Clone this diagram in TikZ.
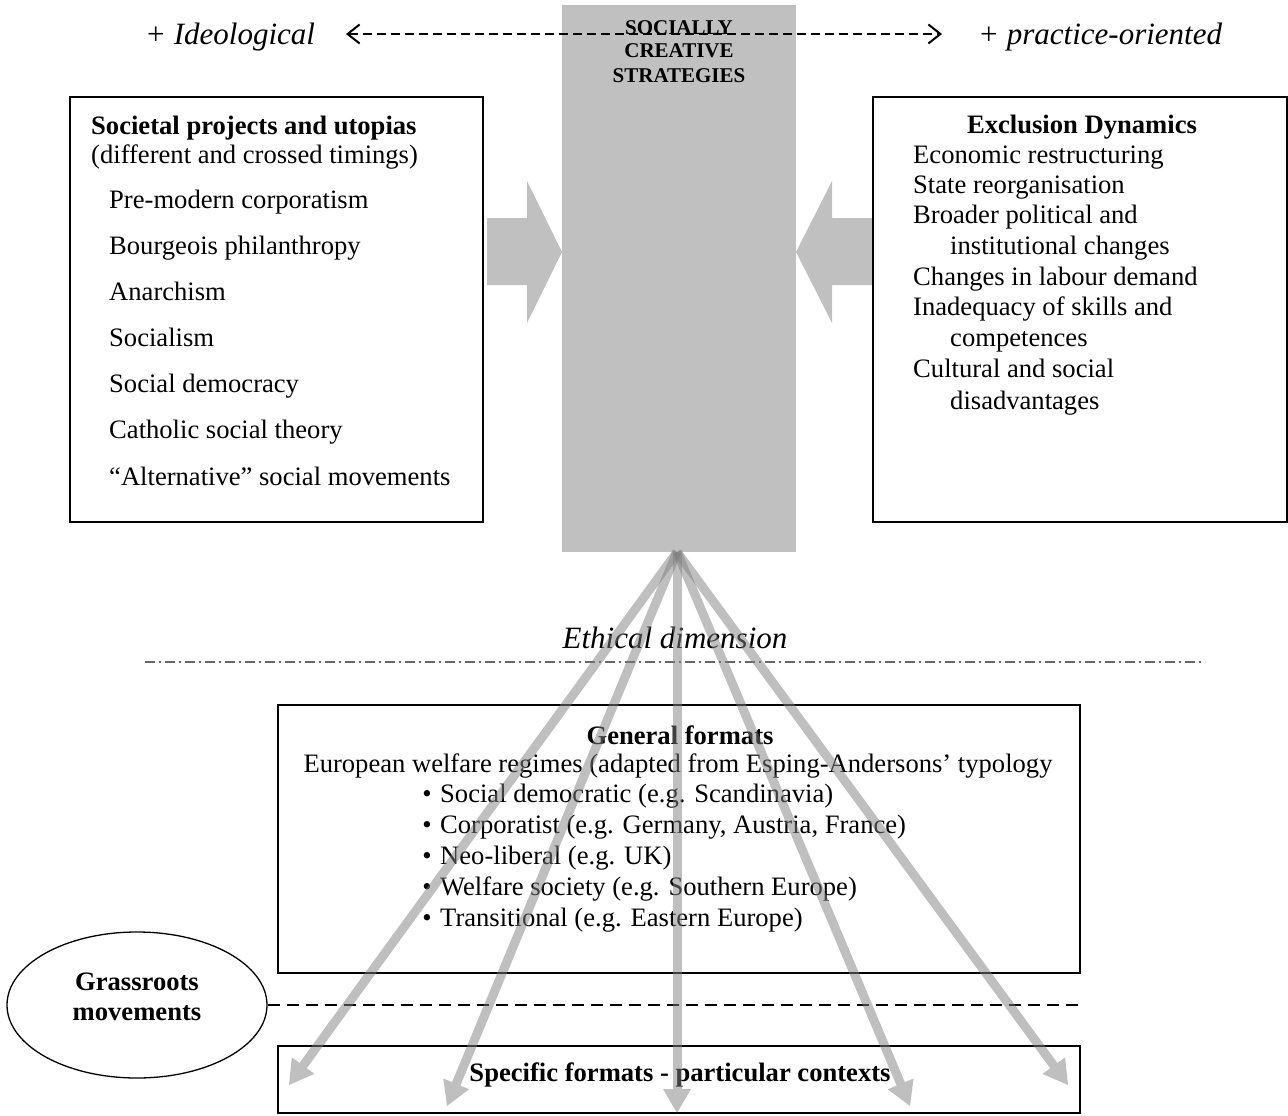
\documentclass[tikz,border=0pt]{standalone}
\usepackage{fontspec}
\setmainfont{Liberation Serif}
\usetikzlibrary{calc,arrows.meta,shapes.geometric}
\definecolor{boxgrey}{RGB}{192,192,192}
\definecolor{fangrey}{RGB}{128,128,128}
\newcommand\bodyfs{\fontsize{26.6pt}{31pt}\selectfont}
\newcommand\corefs{\fontsize{21pt}{25pt}\selectfont\bfseries}
\newcommand\itfs{\fontsize{31pt}{36pt}\selectfont\itshape}
\begin{document}
\begin{tikzpicture}[x=1pt,y=-1pt,
  txt/.style={inner sep=0pt,anchor=base west,font=\bodyfs},
  ctxt/.style={inner sep=0pt,anchor=base,font=\bodyfs},
  frame/.style={draw=black,line width=1.3pt,fill=none},
  fan/.style={draw=fangrey,line width=9pt,draw opacity=0.5},
  fanhead/.style={fill=fangrey,fill opacity=0.5},
  twobarb/.style={{Straight Barb[length=12pt,width=19pt,line width=2pt]}-{Straight Barb[length=12pt,width=19pt,line width=2pt]}}]
\useasboundingbox (0,0) rectangle (1288,1116);

% central grey block
\fill[boxgrey] (562,5) rectangle (796,552);
\node[inner sep=0pt,anchor=base,font=\corefs] (c1) at (679,35) {SOCIALLY};
\node[inner sep=0pt,anchor=base,font=\corefs] (c2) at (679,58) {CREATIVE};
\node[inner sep=0pt,anchor=base,font=\corefs] (c3) at (679,83) {STRATEGIES};

% block arrows
\fill[boxgrey] (487,218) -- (527,218) -- (527,181) -- (562,252) -- (527,323) -- (527,285) -- (487,285) -- cycle;
\fill[boxgrey] (872,218) -- (832,218) -- (832,181) -- (796,252) -- (832,323) -- (832,285) -- (872,285) -- cycle;

% top labels and dashed arrow
\node[inner sep=0pt,anchor=base west,font=\itfs] (ideo) at (145,45) {+ Ideological};
\node[inner sep=0pt,anchor=base west,font=\itfs] (prac) at (978,45) {+ practice-oriented};
\coordinate (dl) at (346,34);
\coordinate (dr) at (942,34);
\draw[line width=2pt,dash pattern=on 9pt off 5pt,twobarb] (dl) -- (dr);

% left box
\draw[frame,line width=1.7pt] (70,97) rectangle (483,522);
\node[txt,font=\bodyfs\bfseries] (l0) at (91,134) {Societal projects and utopias};
\node[txt] (l1) at (91,163) {(different and crossed timings)};
\node[txt] (l2) at (109,208) {Pre-modern corporatism};
\node[txt] (l3) at (109,254) {Bourgeois philanthropy};
\node[txt] (l4) at (109,300) {Anarchism};
\node[txt] (l5) at (109,346) {Socialism};
\node[txt] (l6) at (109,392) {Social democracy};
\node[txt] (l7) at (109,438) {Catholic social theory};
\node[txt] (l8) at (109,485) {“Alternative” social movements};

% right box
\draw[frame,line width=1.7pt] (873,97) rectangle (1287,522);
\node[ctxt,font=\bodyfs\bfseries] (r0) at (1082,133) {Exclusion Dynamics};
\node[txt] (r1) at (913,163) {Economic restructuring};
\node[txt] (r2) at (913,193) {State reorganisation};
\node[txt] (r3) at (913,223) {Broader political and};
\node[txt] (r4) at (950,254) {institutional changes};
\node[txt] (r5) at (913,285) {Changes in labour demand};
\node[txt] (r6) at (913,315) {Inadequacy of skills and};
\node[txt] (r7) at (950,346) {competences};
\node[txt] (r8) at (913,377) {Cultural and social};
\node[txt] (r9) at (950,409) {disadvantages};

% ethical dimension
\node[inner sep=0pt,anchor=base,font=\itfs] (eth) at (675,648) {Ethical dimension};
\coordinate (ea) at (145,662);
\coordinate (eb) at (1205,662);
\draw[line width=1.3pt,draw=black!60,dash pattern=on 10pt off 4pt on 2pt off 4pt] (ea) -- (eb);

% general formats box
\draw[frame] (278,705) rectangle (1080,973);
\node[ctxt,font=\bodyfs\bfseries] (g0) at (680,744) {General formats};
\node[ctxt] (g1) at (678,772) {European welfare regimes (adapted from Esping-Andersons’ typology};
\foreach \yy/\tt [count=\i] in {802/Social democratic (e.g. Scandinavia),833/{Corporatist (e.g. Germany, Austria, France)},864/Neo-liberal (e.g. UK),895/Welfare society (e.g. Southern Europe),926/Transitional (e.g. Eastern Europe)}{
  \node[ctxt] (gb\i) at (427,\yy) {\textbullet};
  \node[txt] (gt\i) at (440,\yy) {\tt};
}

% grassroots ellipse and dashed line
\node[ellipse,draw,line width=1.3pt,minimum width=260pt,minimum height=146pt,inner sep=0pt] (grass) at (137,1005) {};
\node[ctxt,font=\bodyfs\bfseries] (gr1) at (137,990) {Grassroots};
\node[ctxt,font=\bodyfs\bfseries] (gr2) at (137,1020) {movements};
\coordinate (dashend) at (1080,1005);
\draw[line width=1.5pt,dash pattern=on 12pt off 7pt] (grass.east) -- (dashend);

% specific formats box
\draw[frame] (278,1046) rectangle (1080,1113);
\node[ctxt,font=\bodyfs\bfseries] (sp) at (680,1081) {Specific formats - particular contexts};

% fan of arrows
\coordinate (o) at (677,552);
\coordinate (t1) at (289,1085);
\coordinate (t2) at (447,1106);
\coordinate (t3) at (677,1113);
\coordinate (t4) at (910,1106);
\coordinate (t5) at (1068,1085);
\foreach \tp in {t1,t2,t3,t4,t5}{
  \coordinate (hb) at ($(\tp)!24pt!(o)$);
  \draw[fan] (o) -- (hb);
  \fill[fanhead] (\tp) -- ($(hb)!14pt!90:(o)$) -- ($(hb)!14pt!-90:(o)$) -- cycle;
}
\end{tikzpicture}
\end{document}
